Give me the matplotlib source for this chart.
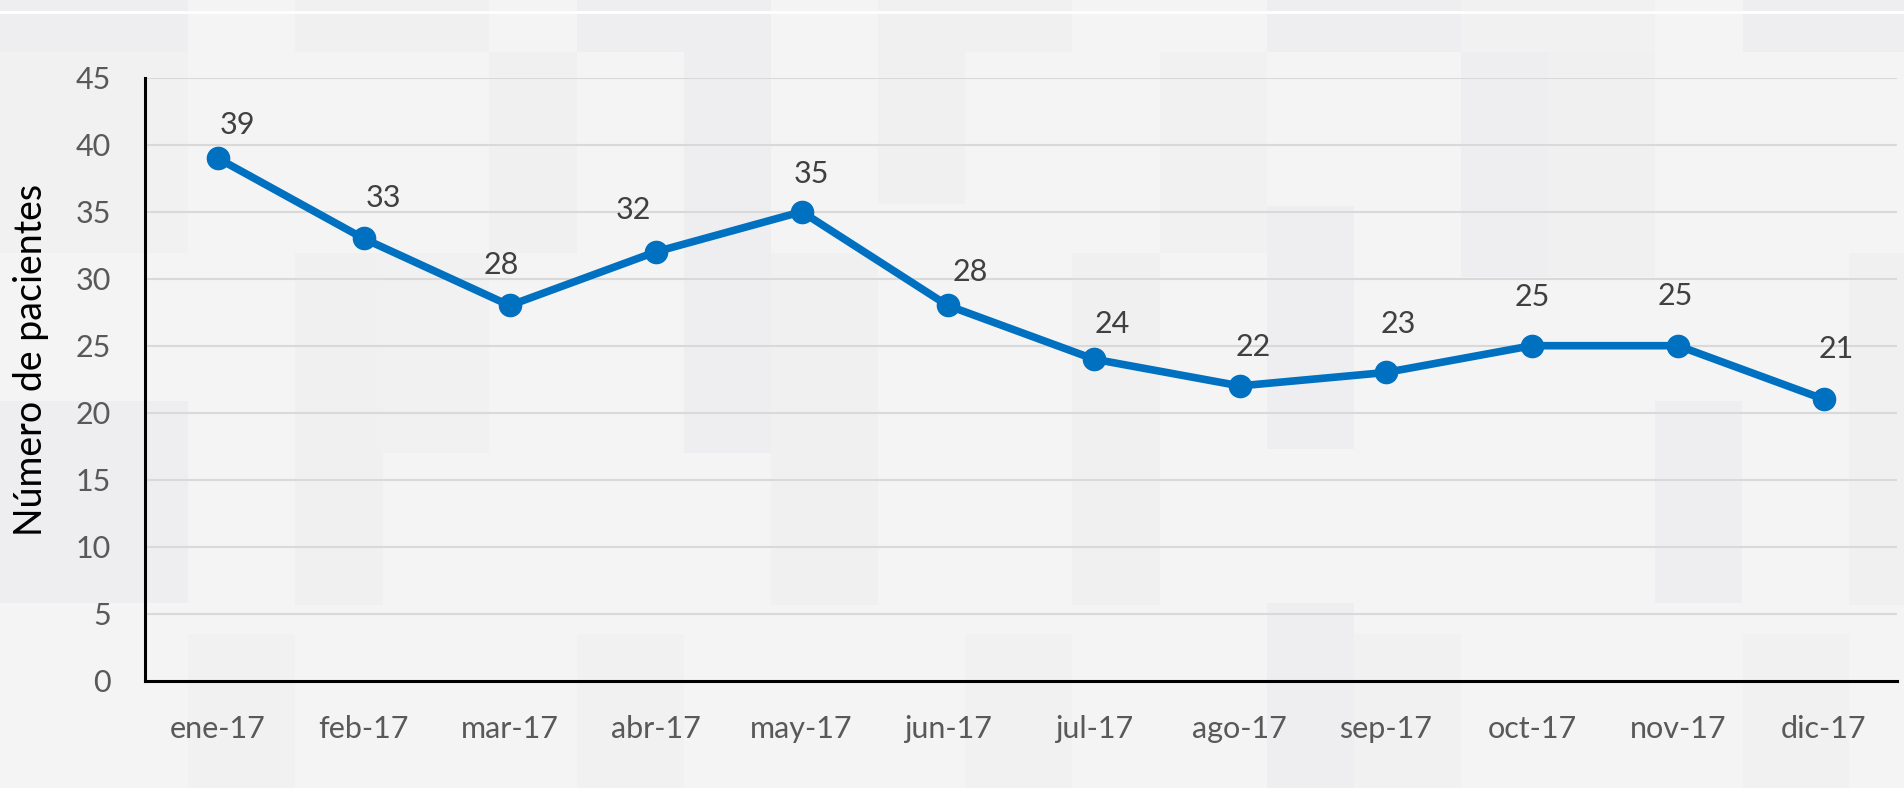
import matplotlib
matplotlib.use("Agg")
import matplotlib.pyplot as plt
from matplotlib.patches import Rectangle

months = ["ene-17", "feb-17", "mar-17", "abr-17", "may-17", "jun-17",
          "jul-17", "ago-17", "sep-17", "oct-17", "nov-17", "dic-17"]
patients = [39, 33, 28, 32, 35, 28, 24, 22, 23, 25, 25, 21]
yticks = [0, 5, 10, 15, 20, 25, 30, 35, 40, 45]

# data-label nudges (points), as placed in the original chart
label_dx = [14, 14, -6, -16, 7, 16, 13, 10, 9, 0, -2, 9]
label_dy = [24, 29, 29, 30, 27, 24, 25, 28, 35, 35, 36, 36]

plt.rcParams['font.family'] = ['Lato', 'DejaVu Sans']

W, H = 1904, 788
fig = plt.figure(figsize=(W / 100, H / 100), dpi=100, facecolor="#f4f4f4")

# subtle background mosaic (decoration), in shrunk-reference pixel units
S = 1568.0
Hs = 649.0
tiles = [
    (0, 0, 155, 43, "#eeeef0"), (243, 0, 160, 43, "#f0f0f1"), (475, 0, 160, 43, "#eeeef0"),
    (723, 0, 160, 43, "#f0f0f1"), (1043, 0, 160, 43, "#eeeef0"), (1203, 0, 160, 43, "#f1f1f2"),
    (1435, 0, 133, 43, "#eeeef0"),
    (0, 43, 155, 165, "#f1f1f2"), (403, 43, 72, 165, "#f0f0f1"), (563, 43, 72, 330, "#eeeef0"),
    (723, 43, 72, 125, "#f0f0f1"), (955, 43, 88, 165, "#f1f1f2"), (1203, 43, 72, 185, "#eeeef0"),
    (1275, 43, 88, 185, "#f0f0f1"),
    (0, 330, 155, 167, "#eeeef0"), (243, 208, 72, 290, "#f0f0f1"), (315, 208, 88, 165, "#f1f1f2"),
    (635, 208, 88, 290, "#f0f0f1"), (883, 208, 72, 290, "#f0f0f1"), (1043, 170, 72, 200, "#eeeef0"),
    (1363, 330, 72, 167, "#eeeef0"), (1523, 208, 45, 290, "#f0f0f1"),
    (155, 522, 88, 127, "#f1f1f2"), (475, 522, 88, 127, "#f1f1f2"), (795, 522, 88, 127, "#f1f1f2"),
    (1043, 497, 72, 152, "#eeeef0"), (1115, 522, 88, 127, "#f1f1f2"), (1435, 522, 88, 127, "#f1f1f2"),
]
for x, y, w, h, c in tiles:
    fig.patches.append(Rectangle((x / S, 1 - (y + h) / Hs), w / S, h / Hs,
                                 transform=fig.transFigure, facecolor=c,
                                 edgecolor="none", zorder=-10))
fig.add_artist(plt.Line2D([0, 1], [1 - 12 / H, 1 - 12 / H], transform=fig.transFigure,
                          color="white", lw=2, zorder=-5))

left, right, top, bottom = 144.5, 1897, 77.7, 680.7
ax = fig.add_axes([left / W, 1 - bottom / H, (right - left) / W, (bottom - top) / H])
ax.set_facecolor("none")

x = list(range(len(months)))
ax.plot(x, patients, color="#0070C0", lw=5.5, marker="o", markersize=16,
        solid_joinstyle="round", zorder=3)
for xi, v, dx, dy in zip(x, patients, label_dx, label_dy):
    ax.annotate(str(v), (xi, v), xytext=(dx, dy), textcoords="offset points",
                ha="center", va="center", fontsize=22, color="#404040")

ax.set_xlim(-0.5, len(months) - 0.5)
ax.set_ylim(0, 45)
ax.set_yticks(yticks)
ax.set_xticks(x)
ax.set_xticklabels(months)
ax.tick_params(axis="both", length=0, labelsize=22, colors="#595959")
ax.tick_params(axis="x", pad=25)
ax.tick_params(axis="y", pad=24)
ax.grid(axis="y", color="#d9d9d9", lw=1.5, zorder=0)
ax.set_axisbelow(True)
for s in ["top", "right"]:
    ax.spines[s].set_visible(False)
for s in ["left", "bottom"]:
    ax.spines[s].set_color("black")
    ax.spines[s].set_linewidth(2.2)
ax.set_ylabel("Número de pacientes", fontsize=27, color="black")
ax.yaxis.set_label_coords(-0.0545, 0.532)

fig.savefig("out.png", dpi=100, facecolor=fig.get_facecolor())
